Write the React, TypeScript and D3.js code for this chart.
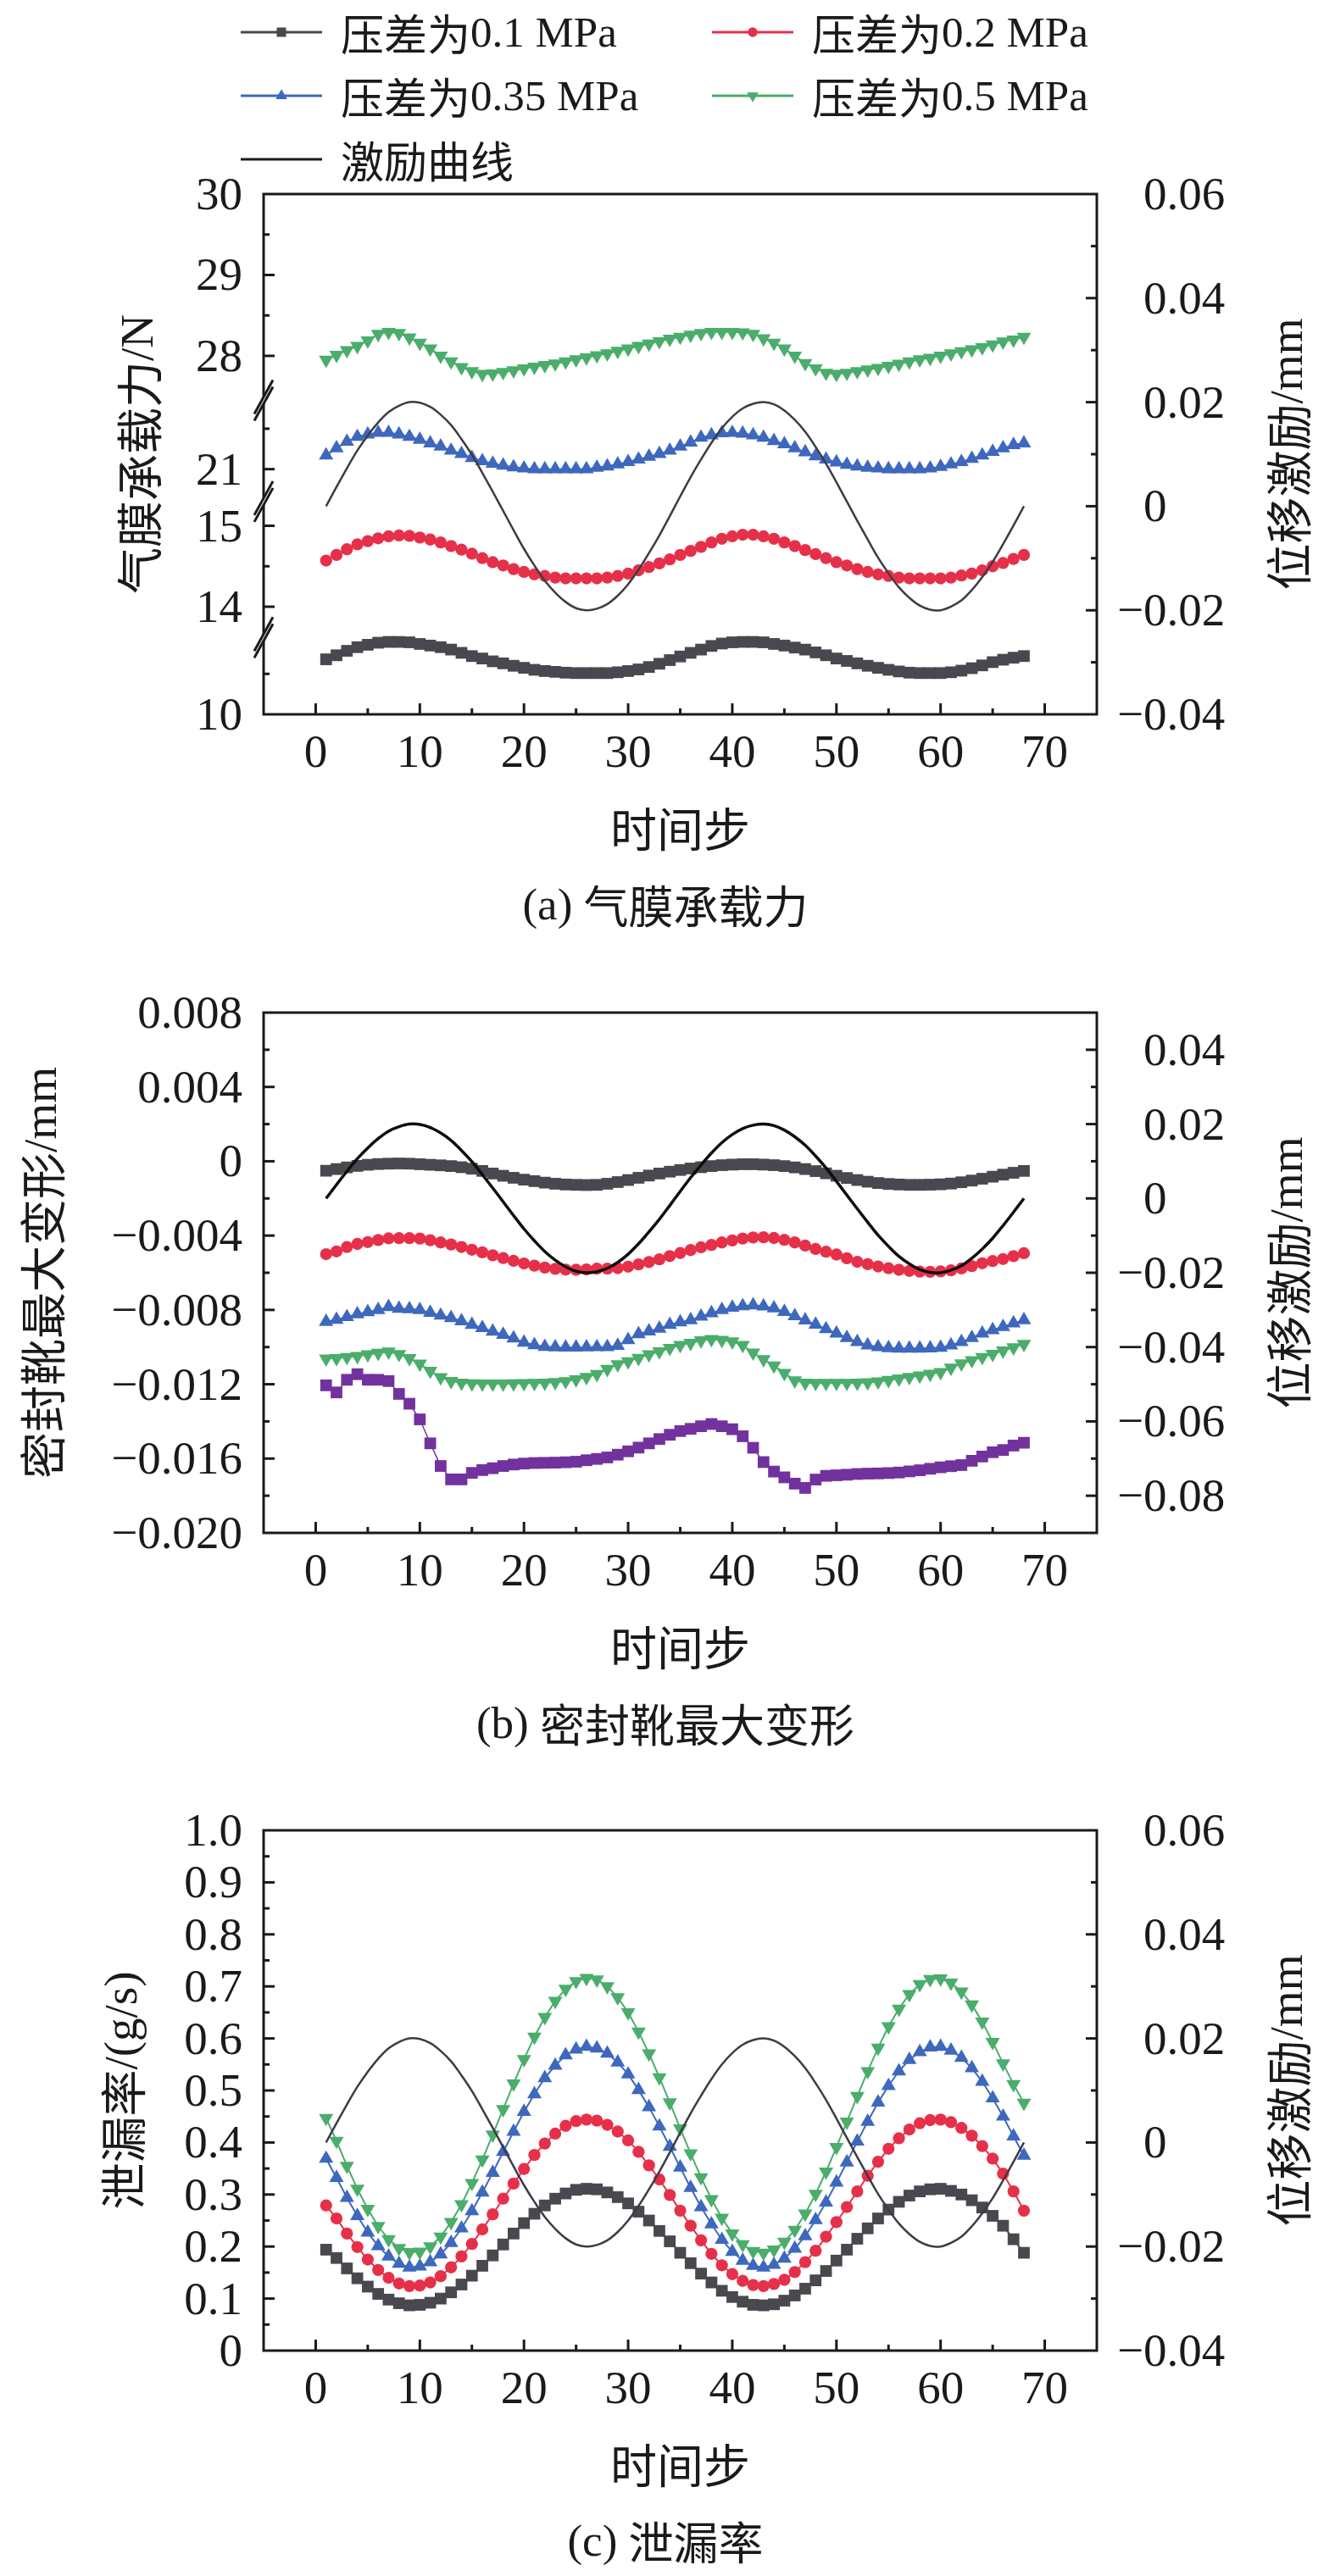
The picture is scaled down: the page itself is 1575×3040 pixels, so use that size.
import * as d3 from "d3";
import { useEffect, useRef } from "react";

// ---- data ----
const legendLabels = ["压差为0.1 MPa", "压差为0.2 MPa", "压差为0.35 MPa", "压差为0.5 MPa", "激励曲线"];

// displacement excitation (mm), time steps 1..68
const excitation = [
  0, 0.0037, 0.0073, 0.0107, 0.0136, 0.0161, 0.0181, 0.0193, 0.02, 0.0199,
  0.0191, 0.0176, 0.0156, 0.0129, 0.0099, 0.0064, 0.0028, -0.0009, -0.0046, -0.0082,
  -0.0114, -0.0143, -0.0166, -0.0184, -0.0196, -0.02, -0.0197, -0.0188, -0.0172, -0.015,
  -0.0122, -0.009, -0.0056, -0.0019, 0.0019, 0.0056, 0.009, 0.0122, 0.015, 0.0172,
  0.0188, 0.0197, 0.02, 0.0196, 0.0184, 0.0166, 0.0143, 0.0114, 0.0082, 0.0046,
  0.0009, -0.0028, -0.0064, -0.0099, -0.0129, -0.0156, -0.0176, -0.0191, -0.0199, -0.02,
  -0.0193, -0.0181, -0.0161, -0.0136, -0.0107, -0.0073, -0.0037, 0,
];

// (a) film load capacity, N
const force01 = [
  10.68, 10.73, 10.785, 10.83, 10.86, 10.885, 10.895, 10.895, 10.89, 10.87,
  10.85, 10.83, 10.8, 10.76, 10.72, 10.69, 10.655, 10.63, 10.6, 10.575,
  10.55, 10.535, 10.525, 10.515, 10.51, 10.51, 10.51, 10.51, 10.52, 10.535,
  10.555, 10.585, 10.625, 10.67, 10.715, 10.76, 10.8, 10.845, 10.875, 10.89,
  10.895, 10.895, 10.89, 10.87, 10.85, 10.825, 10.8, 10.765, 10.73, 10.69,
  10.66, 10.63, 10.6, 10.575, 10.55, 10.53, 10.515, 10.51, 10.51, 10.51,
  10.52, 10.54, 10.57, 10.605, 10.645, 10.675, 10.7, 10.72,
];
const force02 = [
  14.57, 14.64, 14.71, 14.77, 14.81, 14.845, 14.87, 14.88, 14.875, 14.855,
  14.83, 14.795, 14.75, 14.705, 14.655, 14.6, 14.55, 14.51, 14.465, 14.43,
  14.4, 14.38, 14.36, 14.35, 14.35, 14.35, 14.35, 14.36, 14.38, 14.41,
  14.45, 14.49, 14.535, 14.585, 14.64, 14.69, 14.74, 14.795, 14.84, 14.87,
  14.89, 14.89, 14.87, 14.84, 14.795, 14.75, 14.7, 14.65, 14.6, 14.55,
  14.51, 14.465, 14.43, 14.4, 14.38, 14.36, 14.35, 14.35, 14.35, 14.35,
  14.36, 14.385, 14.41, 14.45, 14.5, 14.54, 14.59, 14.64,
];
const force035 = [
  21.17, 21.26, 21.34, 21.4, 21.43, 21.45, 21.45, 21.43, 21.4, 21.365,
  21.32, 21.28, 21.23, 21.19, 21.14, 21.1, 21.07, 21.045, 21.025, 21.01,
  21.0, 21.0, 21.0, 21.0, 21.0, 21.0, 21.02, 21.035, 21.06, 21.09,
  21.12, 21.155, 21.19, 21.23, 21.28, 21.33, 21.39, 21.42, 21.445, 21.45,
  21.44, 21.42, 21.39, 21.35, 21.31, 21.26, 21.21, 21.16, 21.12, 21.085,
  21.055, 21.035, 21.02, 21.01, 21.0, 21.0, 21.0, 21.0, 21.01, 21.03,
  21.06, 21.09, 21.13, 21.17, 21.215, 21.26, 21.3, 21.32,
];
const force05 = [
  27.95, 28.01, 28.07, 28.12, 28.19, 28.27, 28.295, 28.28, 28.225, 28.16,
  28.09, 28.0, 27.93, 27.86, 27.81, 27.775, 27.78, 27.8, 27.82, 27.845,
  27.865, 27.885, 27.905, 27.93, 27.955, 27.98, 28.005, 28.03, 28.06, 28.09,
  28.12, 28.15, 28.18, 28.21, 28.235, 28.26, 28.28, 28.295, 28.295, 28.295,
  28.29, 28.27, 28.215, 28.16, 28.09, 28.0, 27.91, 27.845, 27.79, 27.775,
  27.79, 27.81, 27.83, 27.85, 27.875, 27.9, 27.93, 27.955, 27.975, 28.0,
  28.03, 28.055, 28.08, 28.105, 28.14, 28.175, 28.2, 28.235,
];

// (b) max deformation of seal shoe, mm
const deform01 = [
  -0.00051, -0.00042, -0.00033, -0.00025, -0.00019, -0.00015, -0.00013, -0.00012, -0.00013, -0.00016,
  -0.00019, -0.00022, -0.00026, -0.00032, -0.0004, -0.00052, -0.00066, -0.00078, -0.00089, -0.00099,
  -0.00107, -0.00115, -0.00121, -0.00125, -0.00127, -0.00128, -0.00127, -0.00121, -0.00112, -0.00101,
  -0.00089, -0.00077, -0.00066, -0.00056, -0.00047, -0.00039, -0.00032, -0.00026, -0.00021, -0.00018,
  -0.00016, -0.00016, -0.00018, -0.00021, -0.00026, -0.00033, -0.00042, -0.00053, -0.00065, -0.00078,
  -0.0009, -0.00101, -0.0011, -0.00117, -0.00122, -0.00125, -0.00127, -0.00127, -0.00126, -0.00124,
  -0.0012, -0.00113, -0.00104, -0.00094, -0.00083, -0.00072, -0.00062, -0.00052,
];
const deform02 = [
  -0.005, -0.00485, -0.00462, -0.00445, -0.00435, -0.00424, -0.00415, -0.00414, -0.00414, -0.00416,
  -0.00425, -0.00437, -0.00448, -0.00461, -0.00476, -0.0049, -0.00506, -0.00521, -0.00536, -0.0055,
  -0.00562, -0.00572, -0.00579, -0.00583, -0.00584, -0.00582, -0.00578, -0.00578, -0.00575, -0.00567,
  -0.00555, -0.00542, -0.00528, -0.0051, -0.00494, -0.00478, -0.00463, -0.0045, -0.00437, -0.00426,
  -0.00416, -0.0041, -0.00409, -0.00413, -0.00423, -0.00437, -0.00454, -0.00472, -0.00487, -0.00502,
  -0.00522, -0.00541, -0.00554, -0.00566, -0.00576, -0.00584, -0.0059, -0.00594, -0.00595, -0.00593,
  -0.00587, -0.00577, -0.00564, -0.00549, -0.00537, -0.00526, -0.00511, -0.00495,
];
const deform035 = [
  -0.00864, -0.00852, -0.00838, -0.00823, -0.00811, -0.008, -0.00784, -0.00793, -0.00795, -0.008,
  -0.00815, -0.0083, -0.00843, -0.0086, -0.0088, -0.00897, -0.00916, -0.00933, -0.00953, -0.00975,
  -0.00989, -0.00998, -0.01001, -0.01002, -0.01002, -0.01001, -0.01, -0.00999, -0.00993, -0.00962,
  -0.0093, -0.00915, -0.009, -0.0088, -0.00866, -0.00855, -0.00835, -0.00817, -0.008, -0.00787,
  -0.00779, -0.00775, -0.0078, -0.00791, -0.0081, -0.00833, -0.00856, -0.00879, -0.00903, -0.00926,
  -0.0095, -0.00972, -0.0099, -0.01, -0.01005, -0.01007, -0.01007, -0.01007, -0.01006, -0.01003,
  -0.0099, -0.00972, -0.0095, -0.00926, -0.00908, -0.00891, -0.00872, -0.00855,
];
const deform05 = [
  -0.01062, -0.0106, -0.01054, -0.01049, -0.0104, -0.01032, -0.01025, -0.01038, -0.0106, -0.0109,
  -0.01128, -0.01163, -0.01183, -0.01192, -0.01196, -0.01197, -0.01197, -0.01197, -0.01196, -0.01195,
  -0.01194, -0.01192, -0.01189, -0.01184, -0.01174, -0.01162, -0.01146, -0.01118, -0.01093, -0.01077,
  -0.01059, -0.0104, -0.01024, -0.01005, -0.0099, -0.00978, -0.00964, -0.00958, -0.00962, -0.0097,
  -0.0099, -0.0103, -0.01066, -0.011, -0.0114, -0.0118, -0.01192, -0.01194, -0.01194, -0.01193,
  -0.01193, -0.01192, -0.0119, -0.01186, -0.01178, -0.0117, -0.01162, -0.01154, -0.01145, -0.01135,
  -0.01112, -0.01089, -0.01071, -0.01054, -0.01037, -0.01019, -0.01002, -0.00984,
];
const deformExtra = [
  -0.01206, -0.01244, -0.01176, -0.01146, -0.01176, -0.01176, -0.01183, -0.01252, -0.01305, -0.01389,
  -0.01518, -0.0164, -0.01712, -0.01712, -0.01677, -0.01662, -0.01652, -0.0164, -0.01632, -0.01627,
  -0.01624, -0.01623, -0.01622, -0.0162, -0.01617, -0.01609, -0.01602, -0.01594, -0.01579, -0.01561,
  -0.01541, -0.01518, -0.01495, -0.01472, -0.01452, -0.0144, -0.01426, -0.01414, -0.01426, -0.01442,
  -0.0148, -0.01542, -0.01619, -0.0167, -0.01701, -0.01735, -0.01758, -0.01713, -0.01693, -0.0169,
  -0.01687, -0.01683, -0.01681, -0.0168, -0.01678, -0.01675, -0.01669, -0.01663, -0.01655, -0.01647,
  -0.01641, -0.01635, -0.01612, -0.01589, -0.01566, -0.01554, -0.0153, -0.01515,
];

// (c) leakage rate, g/s
const leak01 = [
  0.194, 0.178, 0.158, 0.139, 0.123, 0.109, 0.098, 0.091, 0.087, 0.088,
  0.092, 0.1, 0.112, 0.127, 0.144, 0.163, 0.183, 0.204, 0.225, 0.245,
  0.263, 0.279, 0.292, 0.302, 0.309, 0.311, 0.31, 0.304, 0.295, 0.283,
  0.267, 0.25, 0.23, 0.21, 0.188, 0.168, 0.148, 0.131, 0.115, 0.103,
  0.094, 0.088, 0.087, 0.089, 0.096, 0.106, 0.119, 0.135, 0.153, 0.173,
  0.194, 0.215, 0.235, 0.254, 0.271, 0.286, 0.298, 0.306, 0.31, 0.311,
  0.307, 0.3, 0.289, 0.275, 0.259, 0.24, 0.214, 0.188,
];
const leak02 = [
  0.279, 0.254, 0.225, 0.199, 0.175, 0.155, 0.14, 0.129, 0.124, 0.125,
  0.131, 0.143, 0.16, 0.181, 0.205, 0.233, 0.262, 0.292, 0.321, 0.349,
  0.376, 0.398, 0.417, 0.432, 0.441, 0.444, 0.442, 0.434, 0.421, 0.404,
  0.382, 0.356, 0.329, 0.299, 0.269, 0.24, 0.212, 0.186, 0.164, 0.147,
  0.134, 0.126, 0.124, 0.128, 0.136, 0.151, 0.17, 0.192, 0.219, 0.247,
  0.276, 0.306, 0.336, 0.363, 0.388, 0.408, 0.425, 0.437, 0.443, 0.444,
  0.439, 0.428, 0.413, 0.393, 0.369, 0.34, 0.306, 0.269,
];
const leak035 = [
  0.369, 0.332, 0.294, 0.259, 0.227, 0.201, 0.181, 0.167, 0.16, 0.162,
  0.17, 0.185, 0.207, 0.235, 0.268, 0.304, 0.342, 0.382, 0.421, 0.459,
  0.493, 0.524, 0.548, 0.568, 0.579, 0.584, 0.581, 0.571, 0.554, 0.531,
  0.501, 0.468, 0.431, 0.392, 0.352, 0.313, 0.276, 0.243, 0.213, 0.19,
  0.173, 0.163, 0.16, 0.165, 0.177, 0.196, 0.22, 0.251, 0.285, 0.323,
  0.362, 0.402, 0.44, 0.477, 0.509, 0.537, 0.559, 0.574, 0.583, 0.584,
  0.577, 0.563, 0.543, 0.517, 0.485, 0.45, 0.412, 0.375,
];
const leak05 = [
  0.447, 0.403, 0.355, 0.311, 0.272, 0.239, 0.214, 0.197, 0.189, 0.19,
  0.2, 0.219, 0.247, 0.281, 0.322, 0.367, 0.415, 0.464, 0.513, 0.56,
  0.603, 0.641, 0.672, 0.695, 0.71, 0.716, 0.713, 0.7, 0.679, 0.65,
  0.613, 0.571, 0.525, 0.477, 0.427, 0.379, 0.333, 0.291, 0.255, 0.225,
  0.204, 0.191, 0.188, 0.194, 0.209, 0.232, 0.263, 0.301, 0.344, 0.391,
  0.44, 0.489, 0.537, 0.582, 0.623, 0.657, 0.685, 0.704, 0.714, 0.715,
  0.707, 0.69, 0.665, 0.632, 0.593, 0.552, 0.512, 0.476,
];

// axis ticks
const xTicks = [0, 10, 20, 30, 40, 50, 60, 70];
const xMinor = [5, 15, 25, 35, 45, 55, 65];
const forceSegments = [[10, 10.95], [13.62, 15.3], [20.6, 21.85], [27.45, 30]];
const forceTicks = [10, 14, 15, 21, 28, 29, 30];
const forceMinor = [10.5, 14.5, 21.5, 28.5, 29.5];
const deformTicks = [-0.02, -0.016, -0.012, -0.008, -0.004, 0, 0.004, 0.008];
const deformMinor = [-0.018, -0.014, -0.01, -0.006, -0.002, 0.002, 0.006];
const leakTicks = [0, 0.1, 0.2, 0.3, 0.4, 0.5, 0.6, 0.7, 0.8, 0.9, 1.0];
const leakMinor = [0.05, 0.15, 0.25, 0.35, 0.45, 0.55, 0.65, 0.75, 0.85, 0.95];
const dispTicksAC = [-0.04, -0.02, 0, 0.02, 0.04, 0.06];
const dispMinorAC = [-0.03, -0.01, 0.01, 0.03, 0.05];
const dispTicksB = [-0.08, -0.06, -0.04, -0.02, 0, 0.02, 0.04];
const dispMinorB = [-0.07, -0.05, -0.03, -0.01, 0.01, 0.03];

// ---- layout ----
const W = 1575;
const H = 3040;
const L = 311;
const R = 1294;
const PH = 614;
const SERIF = '"Liberation Serif", "Times New Roman", serif';
const CJK = '"Noto Sans CJK SC", sans-serif';
const FS = 55;
const INK = "#1a1a1a";
const COLORS = ["#48484e", "#e6304a", "#3e68bd", "#4bad6b"];
const SHAPES = ["square", "circle", "up", "down"] as const;
const PURPLE = "#72329e";

type Shape = "square" | "circle" | "up" | "down";
type Series = { values: number[]; color: string; shape: Shape; lw?: number };
type Sel = d3.Selection<any, unknown, null, undefined>;

const symbolPath = (shape: Shape, scale = 1) => {
  if (shape === "square") return d3.symbol(d3.symbolSquare, 190 * scale * scale)()!;
  if (shape === "circle") return d3.symbol(d3.symbolCircle, 160 * scale * scale)()!;
  return d3.symbol(d3.symbolTriangle, 125 * scale * scale)()!;
};

const fmt = (digits: number) => (v: number) =>
  Math.abs(v) < 1e-9 ? "0" : (v < 0 ? "−" : "") + Math.abs(v).toFixed(digits);

// split mixed Chinese / Latin text so Latin parts stay in the serif face
const mixedText = (t: Sel, str: string) => {
  const runs = str.match(/[\u3000-\u9fff\uff00-\uffef]+|[^\u3000-\u9fff\uff00-\uffef]+/g) ?? [];
  runs.forEach((run) => {
    const isCjk = /[\u3000-\u9fff]/.test(run);
    t.append("tspan").attr("font-family", isCjk ? CJK : SERIF).text(run);
  });
  return t;
};

type PanelOpts = {
  top: number;
  y: d3.ScaleLinear<number, number>;
  yTicks: number[];
  yMinor: number[];
  yFmt: (v: number) => string;
  yTitle: string;
  yTitleX: number;
  r: d3.ScaleLinear<number, number>;
  rTicks: number[];
  rMinor: number[];
  series: Series[];
  excColor: string;
  excWidth: number;
  breaks?: number[];
  caption: string;
};

function drawPanel(svg: Sel, o: PanelOpts) {
  const bottom = o.top + PH;
  const x = d3.scaleLinear().domain([-5, 75]).range([L, R]);
  const g = svg.append("g");
  const steps = o.series[0].values.map((_, i) => i + 1);

  // series: thin connecting line + markers
  o.series.forEach((s) => {
    const line = d3
      .line<number>()
      .x((_, i) => x(steps[i]))
      .y((d) => o.y(d));
    g.append("path")
      .attr("d", line(s.values))
      .attr("fill", "none")
      .attr("stroke", s.color)
      .attr("stroke-width", s.lw ?? 2);
    const p = symbolPath(s.shape);
    g.selectAll(null)
      .data(s.values)
      .enter()
      .append("path")
      .attr("d", p)
      .attr("fill", s.color)
      .attr(
        "transform",
        (d, i) => `translate(${x(steps[i])},${o.y(d)})${s.shape === "down" ? " rotate(180)" : ""}`
      );
  });

  // excitation on the right axis
  const excLine = d3
    .line<number>()
    .x((_, i) => x(i + 1))
    .y((d) => o.r(d))
    .curve(d3.curveCatmullRom);
  g.append("path")
    .attr("d", excLine(excitation))
    .attr("fill", "none")
    .attr("stroke", o.excColor)
    .attr("stroke-width", o.excWidth);

  // frame
  g.append("rect")
    .attr("x", L)
    .attr("y", o.top)
    .attr("width", R - L)
    .attr("height", PH)
    .attr("fill", "none")
    .attr("stroke", INK)
    .attr("stroke-width", 3);

  const tick = (x1: number, y1: number, x2: number, y2: number) =>
    g.append("line")
      .attr("x1", x1)
      .attr("y1", y1)
      .attr("x2", x2)
      .attr("y2", y2)
      .attr("stroke", INK)
      .attr("stroke-width", 3);

  const label = () => g.append("text").attr("font-family", SERIF).attr("font-size", FS).attr("fill", INK);

  // x ticks
  xTicks.forEach((t) => {
    tick(x(t), bottom, x(t), bottom - 13);
    label().attr("x", x(t)).attr("y", bottom + 62).attr("text-anchor", "middle").text(t);
  });
  xMinor.forEach((t) => tick(x(t), bottom, x(t), bottom - 7));

  // left ticks
  o.yTicks.forEach((t) => {
    const yy = o.y(t);
    if (yy > o.top + 2 && yy < bottom - 2) tick(L, yy, L + 13, yy);
    label().attr("x", 286).attr("y", yy + 18).attr("text-anchor", "end").text(o.yFmt(t));
  });
  o.yMinor.forEach((t) => tick(L, o.y(t), L + 7, o.y(t)));

  // right ticks
  const rf = fmt(2);
  o.rTicks.forEach((t) => {
    const yy = o.r(t);
    if (yy > o.top + 2 && yy < bottom - 2) tick(R, yy, R - 13, yy);
    label()
      .attr("x", t < 0 ? 1349 - 31 : 1349)
      .attr("y", yy + 18)
      .attr("text-anchor", "start")
      .text(rf(t));
  });
  o.rMinor.forEach((t) => tick(R, o.r(t), R - 7, o.r(t)));

  // axis breaks
  (o.breaks ?? []).forEach((by) => {
    g.append("polygon")
      .attr("points", `${L - 11},${by + 16} ${L + 11},${by - 24} ${L + 11},${by - 16} ${L - 11},${by + 24}`)
      .attr("fill", "white");
    [-4, 4].forEach((off) =>
      g.append("line")
        .attr("x1", L - 11)
        .attr("y1", by + 20 + off)
        .attr("x2", L + 11)
        .attr("y2", by - 20 + off)
        .attr("stroke", INK)
        .attr("stroke-width", 3)
    );
  });

  // titles
  const mid = o.top + PH / 2;
  const title = () =>
    g.append("text")
      .attr("text-anchor", "middle")
      .attr("dominant-baseline", "central")
      .attr("font-size", FS)
      .attr("fill", INK);
  mixedText(title().attr("transform", `translate(${o.yTitleX},${mid}) rotate(-90)`), o.yTitle);
  mixedText(title().attr("transform", `translate(1517,${mid}) rotate(-90)`), "位移激励/mm");
  mixedText(title().attr("x", (L + R) / 2).attr("y", bottom + 132), "时间步");
  mixedText(title().attr("x", 785).attr("y", bottom + 224).attr("font-size", 53), o.caption);
}

function drawLegend(svg: Sel) {
  const g = svg.append("g");
  const pos = [
    [284, 38],
    [840, 38],
    [284, 113],
    [840, 113],
    [284, 188],
  ];
  legendLabels.forEach((text, i) => {
    const [lx, ly] = pos[i];
    const color = i < 4 ? COLORS[i] : INK;
    g.append("line")
      .attr("x1", lx)
      .attr("x2", lx + 96)
      .attr("y1", ly)
      .attr("y2", ly)
      .attr("stroke", color)
      .attr("stroke-width", 3);
    if (i < 4) {
      g.append("path")
        .attr("d", symbolPath(SHAPES[i], 0.8))
        .attr("fill", color)
        .attr("transform", `translate(${lx + 48},${ly})${SHAPES[i] === "down" ? " rotate(180)" : ""}`);
    }
    mixedText(
      g.append("text")
        .attr("x", lx + 118)
        .attr("y", ly)
        .attr("dominant-baseline", "central")
        .attr("font-size", 51)
        .attr("fill", INK),
      text
    );
  });
}

export default function App() {
  const ref = useRef<SVGSVGElement>(null);

  useEffect(() => {
    if (!ref.current) return;
    const svg = d3.select(ref.current) as Sel;
    svg.selectAll("*").remove();

    // (a) broken left axis: piecewise linear scale over the kept segments
    const topA = 229;
    const unitsA = d3.sum(forceSegments, (s) => s[1] - s[0]);
    const pxPerUnit = PH / unitsA;
    const domA: number[] = [];
    const rngA: number[] = [];
    const breaksA: number[] = [];
    let cur = topA + PH;
    forceSegments.forEach((s, i) => {
      domA.push(s[0], s[1]);
      const next = cur - (s[1] - s[0]) * pxPerUnit;
      rngA.push(cur, next);
      if (i < forceSegments.length - 1) breaksA.push(next);
      cur = next;
    });
    const yA = d3.scaleLinear().domain(domA).range(rngA);
    const rA = d3.scaleLinear().domain([-0.04, 0.06]).range([topA + PH, topA]);

    drawPanel(svg, {
      top: topA,
      y: yA,
      yTicks: forceTicks,
      yMinor: forceMinor,
      yFmt: (v) => String(v),
      yTitle: "气膜承载力/N",
      yTitleX: 161,
      r: rA,
      rTicks: dispTicksAC,
      rMinor: dispMinorAC,
      series: [force01, force02, force035, force05].map((values, i) => ({
        values,
        color: COLORS[i],
        shape: SHAPES[i],
      })),
      excColor: "#3c3c44",
      excWidth: 2.5,
      breaks: breaksA,
      caption: "(a) 气膜承载力",
    });

    const topB = 1195;
    const yB = d3.scaleLinear().domain([-0.02, 0.008]).range([topB + PH, topB]);
    const rB = d3.scaleLinear().domain([-0.09, 0.05]).range([topB + PH, topB]);
    drawPanel(svg, {
      top: topB,
      y: yB,
      yTicks: deformTicks,
      yMinor: deformMinor,
      yFmt: fmt(3),
      yTitle: "密封靴最大变形/mm",
      yTitleX: 47,
      r: rB,
      rTicks: dispTicksB,
      rMinor: dispMinorB,
      series: [
        ...[deform01, deform02, deform035, deform05].map((values, i) => ({
          values,
          color: COLORS[i],
          shape: SHAPES[i],
        })),
        { values: deformExtra, color: PURPLE, shape: "square" as Shape, lw: 1.5 },
      ],
      excColor: "#0d0d0d",
      excWidth: 3.5,
      caption: "(b) 密封靴最大变形",
    });

    const topC = 2160;
    const yC = d3.scaleLinear().domain([0, 1]).range([topC + PH, topC]);
    const rC = d3.scaleLinear().domain([-0.04, 0.06]).range([topC + PH, topC]);
    drawPanel(svg, {
      top: topC,
      y: yC,
      yTicks: leakTicks,
      yMinor: leakMinor,
      yFmt: (v) => (v === 0 ? "0" : v.toFixed(1)),
      yTitle: "泄漏率/(g/s)",
      yTitleX: 142,
      r: rC,
      rTicks: dispTicksAC,
      rMinor: dispMinorAC,
      series: [leak01, leak02, leak035, leak05].map((values, i) => ({
        values,
        color: COLORS[i],
        shape: SHAPES[i],
      })),
      excColor: "#3c3c44",
      excWidth: 2.5,
      caption: "(c) 泄漏率",
    });

    drawLegend(svg);
  }, []);

  return (
    <svg
      ref={ref}
      width={W}
      height={H}
      viewBox={`0 0 ${W} ${H}`}
      style={{ position: "absolute", left: 0, top: 0, background: "white" }}
    />
  );
}
